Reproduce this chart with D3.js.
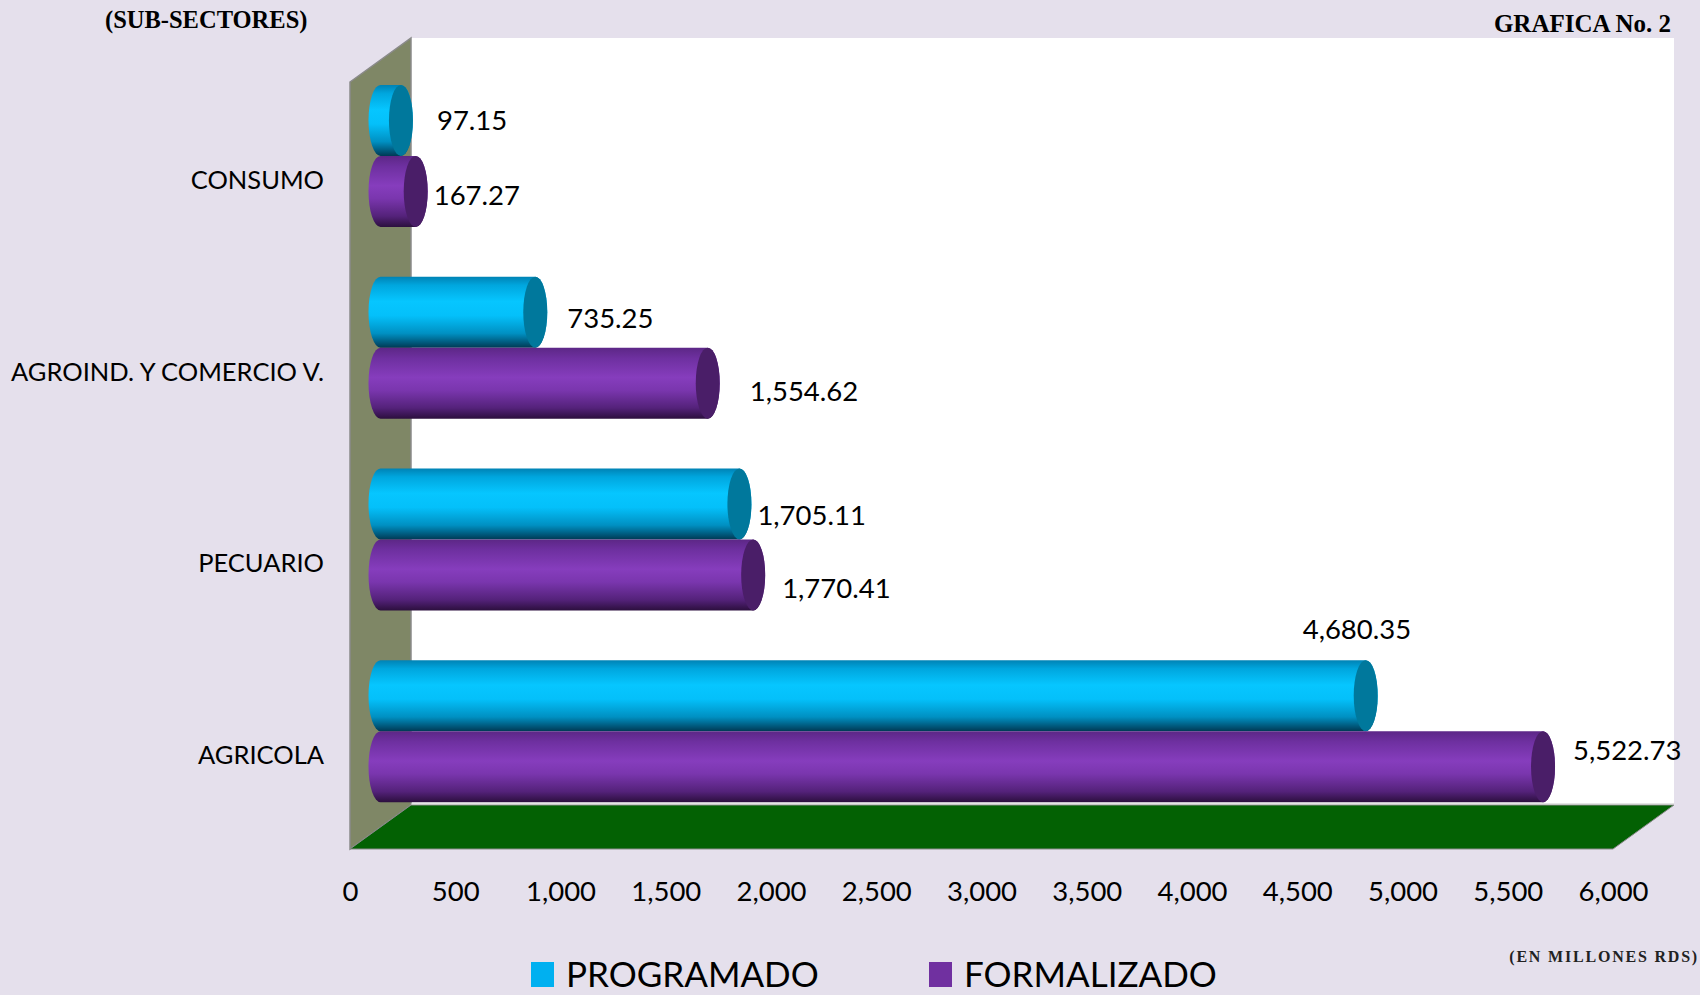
<!DOCTYPE html>
<html><head><meta charset="utf-8">
<script src="https://cdn.jsdelivr.net/npm/d3@7"></script>
<style>
html,body{margin:0;padding:0;background:#E5E0EC;}
svg{display:block;}
</style></head>
<body>
<svg id="chart" width="1700" height="995"></svg>
<script>
// ---- data ----
const categories = ["CONSUMO", "AGROIND. Y COMERCIO V.", "PECUARIO", "AGRICOLA"];
const programado = [97.15, 735.25, 1705.11, 4680.35];
const formalizado = [167.27, 1554.62, 1770.41, 5522.73];
const tickValues = [0, 500, 1000, 1500, 2000, 2500, 3000, 3500, 4000, 4500, 5000, 5500, 6000];
const seriesNames = ["PROGRAMADO", "FORMALIZADO"];
const titleLeft = "(SUB-SECTORES)";
const titleRight = "GRAFICA No. 2";
const unitsNote = "(EN MILLONES RDS)";

// ---- layout (not data) ----
const labelNudge = {
  PROGRAMADO: [[24, 0], [20, 6], [6, 11], [-75, -66]],
  FORMALIZADO: [[6, 4], [30, 8], [17, 13], [18, -16]]
};
const W = 1700, H = 995;
const front = {left: 350, right: 1613, top: 82, bottom: 849};
const depth = {dx: 61, dy: -44};
const barH = 71, rx = 12;

const svg = d3.select("#chart");
const x = d3.scaleLinear().domain([0, 6000]).range([front.left, front.right]);
const y = d3.scaleBand().domain(categories).range([front.top, front.bottom]);
const s = d3.scaleBand().domain(seriesNames).range([-barH, barH]);

const defs = svg.append("defs");
function grad(id, stops) {
  const g = defs.append("linearGradient").attr("id", id)
    .attr("x1", 0).attr("y1", 0).attr("x2", 0).attr("y2", 1);
  stops.forEach(([o, c]) => g.append("stop").attr("offset", o).attr("stop-color", c));
}
grad("gP", [[0, "#0082B4"], [0.12, "#00A6DE"], [0.35, "#06C6FF"], [0.55, "#04C0FA"], [0.8, "#0090C2"], [1, "#003A55"]]);
grad("gF", [[0, "#5C2786"], [0.15, "#6E30A0"], [0.42, "#863DBD"], [0.6, "#7A36AE"], [0.85, "#54227A"], [1, "#2C0F3E"]]);
const style = {
  PROGRAMADO: {body: "url(#gP)", cap: "#00789C", legend: "#00B0F0"},
  FORMALIZADO: {body: "url(#gF)", cap: "#4A1E68", legend: "#7030A0"}
};

// ---- 3D walls ----
const bl = [front.left, front.bottom], tl = [front.left, front.top];
const bl2 = [front.left + depth.dx, front.bottom + depth.dy];
const tl2 = [front.left + depth.dx, front.top + depth.dy];
const br = [front.right, front.bottom];
const br2 = [front.right + depth.dx, front.bottom + depth.dy];
const tr2 = [front.right + depth.dx, front.top + depth.dy];
svg.append("polygon").attr("points", [tl2, tr2, br2, bl2].join(" ")).attr("fill", "#FFFFFF");
svg.append("polygon").attr("points", [tl, tl2, bl2, bl].join(" "))
  .attr("fill", "#7F8766").attr("stroke", "#8A8A8A").attr("stroke-width", 1.5);
svg.append("polygon").attr("points", [bl, bl2, br2, br].join(" "))
  .attr("fill", "#036103").attr("stroke", "#8A8A8A").attr("stroke-width", 1);
svg.append("line").attr("x1", bl2[0]).attr("x2", br2[0]).attr("y1", bl2[1] - 1).attr("y2", br2[1] - 1)
  .attr("stroke", "#C8C8C8").attr("stroke-width", 1);

// ---- bars (cylinders) ----
const rows = [];
categories.forEach((c, i) => {
  rows.push({cat: c, i, series: "PROGRAMADO", v: programado[i]});
  rows.push({cat: c, i, series: "FORMALIZADO", v: formalizado[i]});
});
const ox = depth.dx / 2, oy = depth.dy / 2;
const bars = svg.append("g").selectAll("g").data(rows).join("g");
bars.each(function(d) {
  const g = d3.select(this);
  const x0 = x(0) + ox, x1 = x(d.v) + ox;
  const top = y(d.cat) + y.bandwidth() / 2 + oy + s(d.series);
  const bot = top + barH, ry = barH / 2;
  const p = `M${x0},${top} L${x1},${top} A${rx},${ry} 0 0 1 ${x1},${bot} L${x0},${bot} A${rx},${ry} 0 0 1 ${x0},${top} Z`;
  g.append("path").attr("d", p).attr("fill", style[d.series].body);
  g.append("ellipse").attr("cx", x1).attr("cy", top + ry).attr("rx", rx).attr("ry", ry)
    .attr("fill", style[d.series].cap);
  const n = labelNudge[d.series][d.i];
  g.append("text").attr("x", x1 + rx + n[0]).attr("y", top + ry + n[1])
    .attr("dy", "0.35em")
    .attr("font-family", "Lato, sans-serif").attr("font-size", 27.5).attr("fill", "#000")
    .text(d3.format(",.2f")(d.v));
});

// ---- axes ----
const xAxis = svg.append("g").attr("transform", "translate(0,891)")
  .call(d3.axisBottom(x).tickValues(tickValues).tickFormat(d3.format(",")).tickSize(0));
xAxis.select(".domain").remove();
xAxis.selectAll("text").attr("y", 0).attr("dy", "0.35em")
  .attr("font-family", "Lato, sans-serif").attr("font-size", 27.5).attr("fill", "#000");

const yAxis = svg.append("g").attr("transform", "translate(324,2)")
  .call(d3.axisLeft(y).tickSize(0).tickPadding(0));
yAxis.select(".domain").remove();
yAxis.selectAll("text").attr("x", 0).attr("dy", "0.35em")
  .attr("font-family", "Lato, sans-serif").attr("font-size", 25.5).attr("fill", "#000");

// ---- titles ----
svg.append("text").attr("x", 105).attr("y", 28).text(titleLeft)
  .attr("font-family", "'Liberation Serif', serif").attr("font-weight", "bold").attr("font-size", 24.5);
svg.append("text").attr("x", 1671).attr("y", 32).attr("text-anchor", "end").text(titleRight)
  .attr("font-family", "'Liberation Serif', serif").attr("font-weight", "bold").attr("font-size", 25);
svg.append("text").attr("x", 1699).attr("y", 962).attr("text-anchor", "end").text(unitsNote)
  .attr("font-family", "'Liberation Serif', serif").attr("font-weight", "bold").attr("font-size", 16)
  .attr("letter-spacing", 1.8).attr("fill", "#222");

// ---- legend ----
const legX = [531, 929];
const leg = svg.append("g").selectAll("g").data(seriesNames).join("g")
  .attr("transform", (d, i) => `translate(${legX[i]},962)`);
leg.append("rect").attr("width", 23).attr("height", 25).attr("fill", d => style[d].legend);
leg.append("text").attr("x", 35).attr("y", 24.5).text(d => d)
  .attr("font-family", "Lato, sans-serif").attr("font-size", 35).attr("fill", "#000");
</script>
</body></html>
